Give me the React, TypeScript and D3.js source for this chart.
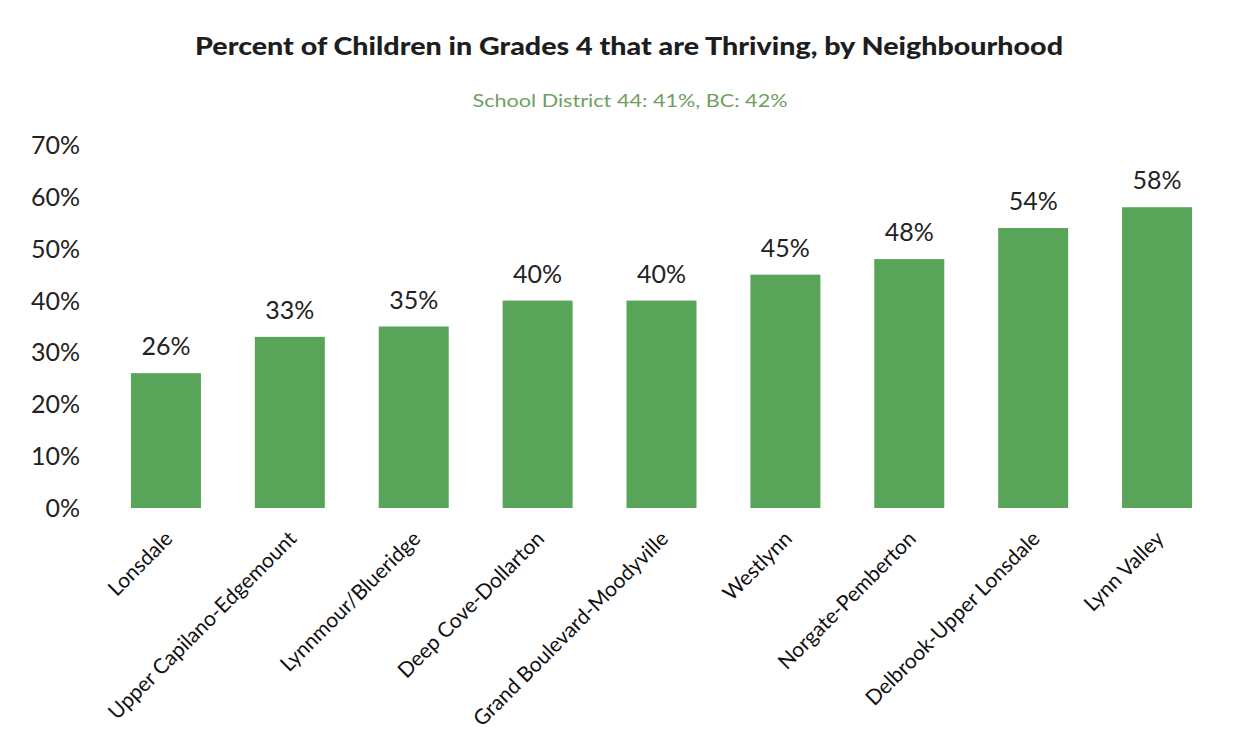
import React from "react";
import * as d3 from "d3";

const categories = [
  "Lonsdale",
  "Upper Capilano-Edgemount",
  "Lynnmour/Blueridge",
  "Deep Cove-Dollarton",
  "Grand Boulevard-Moodyville",
  "Westlynn",
  "Norgate-Pemberton",
  "Delbrook-Upper Lonsdale",
  "Lynn Valley",
];
const values = [26, 33, 35, 40, 40, 45, 48, 54, 58];
const yTicks = [0, 10, 20, 30, 40, 50, 60, 70];
const title = "Percent of Children in Grades 4 that are Thriving, by Neighbourhood";
const subtitle = "School District 44: 41%, BC: 42%";

const W = 1243;
const H = 750;
const FONT = "Lato, 'Open Sans', sans-serif";

export default function App() {
  const x = d3.scaleBand<string>().domain(categories).range([104, 1219]).paddingInner(0.435).paddingOuter(0.2175);
  const y = d3.scaleLinear().domain([0, 70]).range([508, 145]);
  const bw = x.bandwidth();

  return (
    <svg width={W} height={H} style={{ position: "absolute", left: 0, top: 0, background: "#fff" }} fontFamily={FONT}>
      <rect x={0} y={0} width={W} height={H} fill="#fff" />
      <text x={629} y={55} textAnchor="middle" fontSize={24} fontWeight={900} fill="#1e1e1e" textLength={868} lengthAdjust="spacingAndGlyphs">
        {title}
      </text>
      <text x={630} y={107} textAnchor="middle" fontSize={18} fill="#6f9e62" textLength={315} lengthAdjust="spacingAndGlyphs">
        {subtitle}
      </text>
      {yTicks.map((t) => (
        <text key={t} x={80} y={y(t)} dy="0.36em" textAnchor="end" fontSize={25} fill="#222">
          {t}%
        </text>
      ))}
      {categories.map((c, i) => (
        <g key={c}>
          <rect x={x(c)} y={y(values[i])} width={bw} height={y(0) - y(values[i])} fill="#58a458" />
          <text x={(x(c) as number) + bw / 2} y={y(values[i]) - 18} textAnchor="middle" fontSize={25} fill="#222">
            {values[i]}%
          </text>
          <text
            transform={`translate(${(x(c) as number) + bw / 2 + 8},${540}) rotate(-45)`}
            textAnchor="end"
            fontSize={21}
            fill="#111"
          >
            {c}
          </text>
        </g>
      ))}
    </svg>
  );
}
